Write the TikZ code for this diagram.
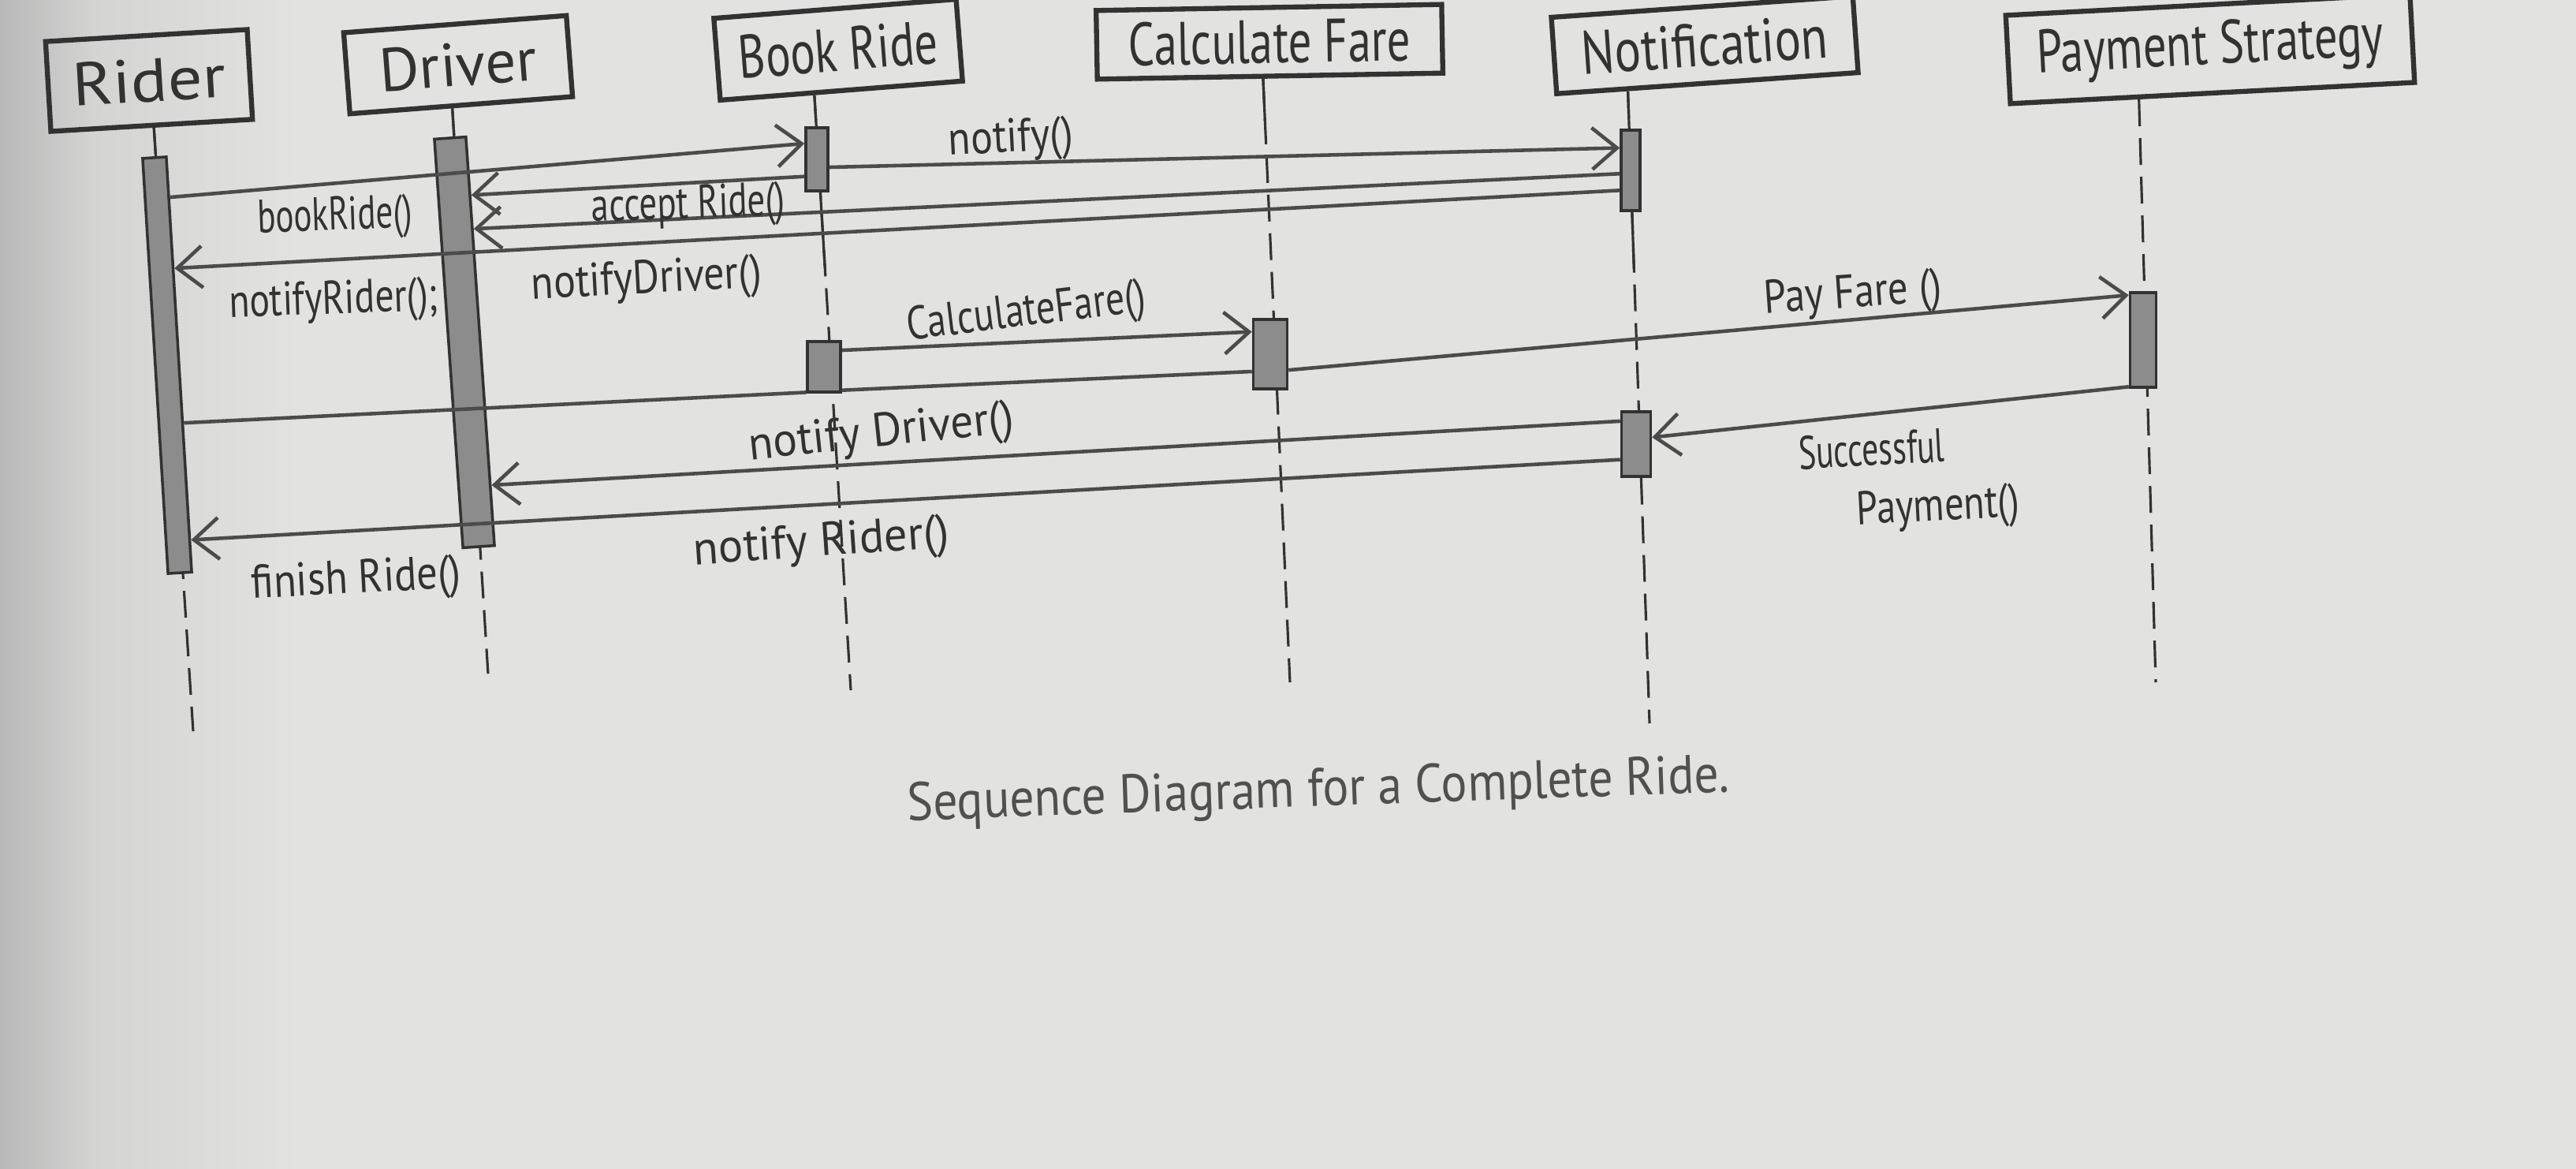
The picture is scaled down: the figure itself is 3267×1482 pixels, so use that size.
\documentclass[tikz,border=0pt]{standalone}
\usepackage{fontspec}
\setmainfont{PT Sans}
\usetikzlibrary{arrows.meta,calc}
\definecolor{pencil}{RGB}{50,50,50}
\definecolor{pencilL}{RGB}{75,75,75}
\definecolor{capc}{RGB}{80,80,80}
\definecolor{paper}{RGB}{226,226,224}
\definecolor{paperM}{RGB}{212,212,211}
\definecolor{paperD}{RGB}{184,184,184}
\definecolor{barfill}{RGB}{140,140,140}
\newcommand{\sx}[2]{\scalebox{#1}[1]{#2}}
\begin{document}
\begin{tikzpicture}[x=0.01cm,y=-0.01cm,
  pbox/.style={draw=pencil, line width=1.8pt, inner sep=0pt, text=pencil, font=\fontsize{22}{26}\selectfont},
  abar/.style={draw=pencil, line width=1pt, fill=barfill, inner sep=0pt},
  life/.style={draw=pencil, line width=0.9pt, dash pattern=on 0.34cm off 0.15cm},
  lifes/.style={draw=pencil, line width=0.9pt},
  msg/.style={draw=pencilL, line width=1.3pt, -{Straight Barb[length=9pt,width=15pt]}},
  seg/.style={draw=pencilL, line width=1.3pt},
  lbl/.style={text=pencil, font=\fontsize{17}{19}\selectfont, inner sep=0pt},
  captext/.style={text=capc, font=\fontsize{19.5}{22}\selectfont, inner sep=0pt}]
\useasboundingbox (0,0) rectangle (3267,1482);
\fill[paper] (0,0) rectangle (3267,1482);
\shade[left color=paperD, right color=paperM] (0,0) rectangle (120,1482);
\shade[left color=paperM, right color=paper] (120,0) rectangle (380,1482);

% participant boxes
\node[pbox, minimum width=2.56cm, minimum height=1.14cm, rotate=3.4] (rider) at (189,102) {\sx{1.12}{Rider}};
\node[pbox, minimum width=2.83cm, minimum height=1.03cm, rotate=4.4] (driver) at (581,82) {Driver};
\node[pbox, minimum width=3.08cm, minimum height=1.04cm, rotate=4.5] (bookride) at (1063,63) {\sx{0.76}{Book Ride}};
\node[pbox, minimum width=4.38cm, minimum height=0.87cm, rotate=1] (calcfare) at (1610,53) {\sx{0.76}{Calculate Fare}};
\node[pbox, minimum width=3.83cm, minimum height=0.97cm, rotate=4] (notif) at (2162,57) {\sx{0.81}{Notification}};
\node[pbox, minimum width=5.13cm, minimum height=1.12cm, rotate=3] (payment) at (2803,62) {\sx{0.76}{Payment Strategy}};

% lifeline ends
\coordinate (rE) at (245,927);
\coordinate (dE) at (619,854);
\coordinate (bE) at (1079,875);
\coordinate (cE) at (1636,865);
\coordinate (nE) at (2092,917);
\coordinate (pE) at (2734,865);
\coordinate (rS) at ($(rider.south west)!0.51!(rider.south east)$);
\coordinate (dS) at ($(driver.south west)!0.46!(driver.south east)$);
\coordinate (bS) at ($(bookride.south west)!0.39!(bookride.south east)$);
\coordinate (cS) at ($(calcfare.south west)!0.48!(calcfare.south east)$);
\coordinate (nS) at ($(notif.south west)!0.24!(notif.south east)$);
\coordinate (pS) at ($(payment.south west)!0.32!(payment.south east)$);

% lifelines
\draw[life] (rS) -- (rE);
\draw[life] (dS) -- (dE);
\draw[life] (bS) -- (bE);
\draw[life] (cS) -- (cE);
\draw[life] (nS) -- (nE);
\draw[life] (pS) -- (pE);
\draw[lifes] (rS) -- ($(rS)!0.4!(rE)$);
\draw[lifes] (dS) -- ($(dS)!0.4!(dE)$);
\draw[lifes] (bS) -- ($(bS)!0.29!(bE)$);
\draw[lifes] (cS) -- ($(cS)!0.07!(cE)$);
\draw[lifes] (nS) -- ($(nS)!0.28!(nE)$);

% activation bars
\node[abar, minimum width=0.30cm, minimum height=5.27cm, rotate=3.5] (rB) at (212,463) {};
\node[abar, minimum width=0.40cm, minimum height=5.19cm, rotate=4] (dB) at (589,434) {};
\node[abar, minimum width=0.28cm, minimum height=0.80cm] (b1) at (1036,202) {};
\node[abar, minimum width=0.42cm, minimum height=0.64cm] (b2) at (1045,465) {};
\node[abar, minimum width=0.43cm, minimum height=0.88cm] (cB) at (1611,449) {};
\node[abar, minimum width=0.24cm, minimum height=1.02cm] (n1) at (2068,216) {};
\node[abar, minimum width=0.37cm, minimum height=0.82cm] (n2) at (2075,563) {};
\node[abar, minimum width=0.33cm, minimum height=1.20cm] (pB) at (2718,431) {};

% messages
\draw[msg] ($(rB.north east)!0.10!(rB.south east)$) -- ($(b1.north west)!0.26!(b1.south west)$);
\draw[msg] ($(b1.north east)!0.62!(b1.south east)$) -- ($(n1.north west)!0.23!(n1.south west)$);
\draw[msg] ($(b1.north west)!0.76!(b1.south west)$) -- ($(dB.north east)!0.145!(dB.south east)$);
\draw[msg] ($(n1.north west)!0.54!(n1.south west)$) -- ($(dB.north east)!0.227!(dB.south east)$);
\draw[msg] ($(n1.north west)!0.74!(n1.south west)$) -- ($(rB.north east)!0.27!(rB.south east)$);
\draw[msg] ($(b2.north east)!0.19!(b2.south east)$) -- ($(cB.north west)!0.19!(cB.south west)$);
\draw[seg] ($(rB.north east)!0.64!(rB.south east)$) -- ($(b2.north west)!0.98!(b2.south west)$);
\draw[seg] ($(b2.north east)!0.94!(b2.south east)$) -- ($(cB.north west)!0.74!(cB.south west)$);
\draw[msg] ($(cB.north east)!0.72!(cB.south east)$) -- ($(pB.north west)!0.04!(pB.south west)$);
\draw[msg] ($(pB.north west)!0.98!(pB.south west)$) -- ($(n2.north east)!0.40!(n2.south east)$);
\draw[msg] ($(n2.north west)!0.16!(n2.south west)$) -- ($(dB.north east)!0.85!(dB.south east)$);
\draw[msg] ($(n2.north west)!0.73!(n2.south west)$) -- ($(rB.north east)!0.92!(rB.south east)$);

% labels
\node[lbl, rotate=2] (lbookride) at (425,277) {\sx{0.72}{bookRide()}};
\node[lbl, rotate=3] (lnotify) at (1282,178) {\sx{0.87}{notify()}};
\node[lbl, rotate=2] (laccept) at (873,262) {\sx{0.75}{accept Ride()}};
\node[lbl, rotate=3] (lnotifyd) at (820,357) {\sx{0.87}{notifyDriver()}};
\node[lbl, rotate=2] (lnotifyr) at (423,383) {\sx{0.8}{notifyRider();}};
\node[lbl, rotate=7] (lcalc) at (1302,398) {\sx{0.8}{CalculateFare()}};
\node[lbl, rotate=4] (lpay) at (2350,375) {\sx{0.85}{Pay Fare ()}};
\node[lbl, rotate=6] (lnotifyd2) at (1118,551) {\sx{0.96}{notify Driver()}};
\node[lbl, rotate=4] (lnotifyr2) at (1042,690) {\sx{0.98}{notify Rider()}};
\node[lbl, rotate=3] (lfinish) at (452,737) {\sx{0.88}{finish Ride()}};
\node[lbl, rotate=3, align=left] (lsucc) at (2421,610) {\sx{0.7}{Successful}\\[2pt]\hspace*{0.7cm}\sx{0.81}{Payment()}};
\node[captext, rotate=2] (caption) at (1672,1005) {\sx{0.9}{Sequence Diagram for a Complete Ride.}};
\end{tikzpicture}
\end{document}
